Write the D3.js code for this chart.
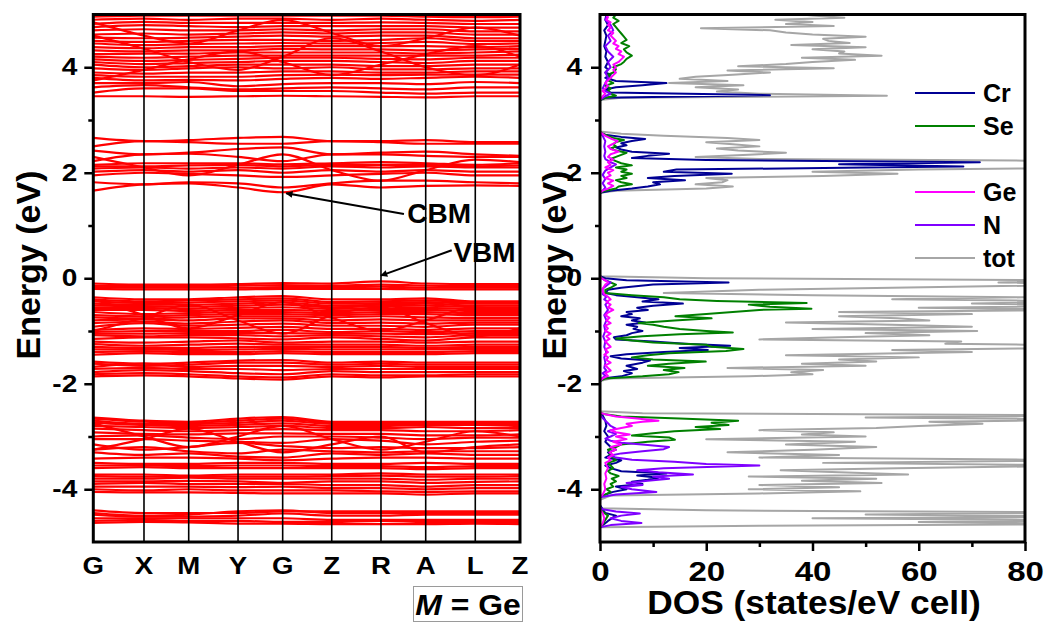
<!DOCTYPE html>
<html>
<head>
<meta charset="utf-8">
<script src="https://cdn.jsdelivr.net/npm/d3@7"></script>
<style>
  html, body { margin: 0; padding: 0; background: #fff; }
  svg { display: block; font-family: "Liberation Sans", Arial, sans-serif; font-weight: bold; }
</style>
</head>
<body>
<svg id="chart" width="1048" height="623"></svg>
<script>
// high-symmetry path
var kLabels = ['G', 'X', 'M', 'Y', 'G', 'Z', 'R', 'A', 'L', 'Z'];
var kDist = [0, 0.594, 1.118, 1.696, 2.219, 2.794, 3.371, 3.895, 4.476, 5.0];

// band energies (eV) at each k point, grouped by manifold
var bandsDeep = [
  [-4.40,-4.45,-4.45,-4.45,-4.42,-4.42,-4.42,-4.42,-4.42,-4.42],
  [-4.45,-4.50,-4.48,-4.42,-4.40,-4.45,-4.45,-4.45,-4.45,-4.45],
  [-4.48,-4.52,-4.52,-4.50,-4.46,-4.50,-4.50,-4.48,-4.48,-4.48],
  [-4.55,-4.55,-4.55,-4.55,-4.55,-4.58,-4.58,-4.58,-4.58,-4.58],
  [-4.60,-4.58,-4.60,-4.60,-4.62,-4.62,-4.60,-4.62,-4.62,-4.62],
  [-4.64,-4.62,-4.63,-4.65,-4.65,-4.66,-4.66,-4.66,-4.65,-4.66]
];
var bandsLower = [
  [-2.64,-2.70,-2.72,-2.66,-2.63,-2.72,-2.72,-2.72,-2.72,-2.72],
  [-2.66,-2.72,-2.74,-2.70,-2.66,-2.74,-2.74,-2.74,-2.74,-2.74],
  [-2.70,-2.76,-2.76,-2.74,-2.70,-2.76,-2.76,-2.76,-2.76,-2.76],
  [-2.74,-2.78,-2.80,-2.78,-2.75,-2.80,-2.80,-2.78,-2.78,-2.80],
  [-2.80,-2.82,-2.84,-2.82,-2.80,-2.84,-2.84,-2.82,-2.84,-2.84],
  [-2.85,-2.88,-2.90,-2.88,-2.86,-2.88,-2.88,-2.90,-2.90,-2.88],
  [-2.92,-2.95,-2.96,-2.94,-2.94,-2.95,-2.95,-2.98,-2.98,-2.96],
  [-3.00,-2.98,-3.02,-3.05,-3.00,-3.00,-3.02,-3.05,-3.02,-3.02],
  [-3.05,-3.05,-3.08,-3.10,-3.12,-3.05,-3.08,-3.15,-3.10,-3.08],
  [-3.15,-3.25,-3.20,-3.12,-3.18,-3.22,-3.20,-3.22,-3.22,-3.20],
  [-3.25,-3.20,-3.28,-3.32,-3.25,-3.28,-3.30,-3.28,-3.28,-3.28],
  [-3.30,-3.35,-3.32,-3.38,-3.40,-3.32,-3.35,-3.32,-3.35,-3.35],
  [-3.42,-3.40,-3.40,-3.42,-3.45,-3.42,-3.40,-3.40,-3.42,-3.42],
  [-3.50,-3.52,-3.52,-3.50,-3.50,-3.52,-3.52,-3.50,-3.52,-3.52],
  [-3.55,-3.55,-3.56,-3.55,-3.55,-3.56,-3.56,-3.58,-3.56,-3.56],
  [-3.60,-3.58,-3.60,-3.60,-3.60,-3.60,-3.60,-3.62,-3.60,-3.60],
  [-3.72,-3.72,-3.74,-3.72,-3.72,-3.72,-3.70,-3.72,-3.72,-3.72],
  [-3.75,-3.76,-3.76,-3.76,-3.76,-3.75,-3.74,-3.76,-3.76,-3.75],
  [-3.80,-3.80,-3.78,-3.80,-3.80,-3.80,-3.80,-3.82,-3.80,-3.80],
  [-3.85,-3.85,-3.84,-3.85,-3.88,-3.85,-3.85,-3.88,-3.86,-3.85],
  [-3.90,-3.88,-3.90,-3.90,-3.90,-3.92,-3.92,-3.95,-3.92,-3.92],
  [-3.95,-3.95,-3.95,-3.96,-3.95,-3.98,-3.98,-4.00,-3.98,-3.98],
  [-4.00,-4.02,-4.00,-4.02,-4.02,-4.02,-4.04,-4.05,-4.04,-4.04],
  [-4.05,-4.06,-4.06,-4.07,-4.08,-4.08,-4.08,-4.10,-4.08,-4.08],
  [-2.75,-3.00,-3.20,-3.00,-2.80,-3.05,-3.25,-3.10,-2.90,-3.00],
  [-3.25,-3.05,-2.85,-3.10,-3.30,-3.15,-3.00,-3.30,-3.20,-3.15]
];
var bandsValence = [
  [-0.10,-0.12,-0.12,-0.11,-0.09,-0.10,-0.06,-0.10,-0.11,-0.11],
  [-0.14,-0.15,-0.15,-0.14,-0.13,-0.14,-0.12,-0.14,-0.15,-0.15],
  [-0.17,-0.18,-0.18,-0.18,-0.17,-0.17,-0.16,-0.18,-0.18,-0.18],
  [-0.20,-0.21,-0.21,-0.21,-0.20,-0.20,-0.20,-0.21,-0.21,-0.21],
  [-0.36,-0.40,-0.40,-0.36,-0.34,-0.40,-0.40,-0.38,-0.44,-0.44],
  [-0.40,-0.44,-0.42,-0.40,-0.38,-0.45,-0.44,-0.42,-0.46,-0.46],
  [-0.44,-0.47,-0.46,-0.44,-0.42,-0.48,-0.47,-0.45,-0.48,-0.48],
  [-0.48,-0.50,-0.50,-0.48,-0.46,-0.52,-0.50,-0.48,-0.52,-0.52],
  [-0.52,-0.53,-0.54,-0.52,-0.50,-0.55,-0.53,-0.52,-0.55,-0.55],
  [-0.56,-0.56,-0.58,-0.56,-0.55,-0.58,-0.57,-0.56,-0.58,-0.58],
  [-0.60,-0.60,-0.62,-0.60,-0.60,-0.62,-0.60,-0.60,-0.62,-0.62],
  [-0.64,-0.68,-0.66,-0.64,-0.64,-0.66,-0.64,-0.64,-0.66,-0.66],
  [-0.70,-0.72,-0.70,-0.68,-0.68,-0.70,-0.68,-0.68,-0.70,-0.70],
  [-0.74,-0.76,-0.74,-0.72,-0.72,-0.74,-0.72,-0.74,-0.75,-0.75],
  [-0.80,-0.78,-0.80,-0.76,-0.76,-0.80,-0.78,-0.80,-0.80,-0.80],
  [-0.85,-0.82,-0.86,-0.82,-0.80,-0.85,-0.84,-0.86,-0.84,-0.84],
  [-0.92,-0.85,-0.90,-0.88,-0.86,-0.90,-0.90,-0.92,-0.88,-0.88],
  [-0.98,-0.95,-0.96,-0.94,-0.92,-0.96,-0.96,-0.98,-0.95,-0.95],
  [-1.02,-1.00,-1.00,-1.00,-0.98,-1.02,-1.00,-1.02,-1.00,-1.00],
  [-1.05,-1.05,-1.04,-1.04,-1.04,-1.05,-1.05,-1.06,-1.04,-1.04],
  [-1.08,-1.10,-1.08,-1.08,-1.10,-1.08,-1.10,-1.12,-1.08,-1.08],
  [-1.15,-1.12,-1.12,-1.14,-1.16,-1.12,-1.15,-1.18,-1.12,-1.12],
  [-1.20,-1.22,-1.20,-1.18,-1.22,-1.20,-1.20,-1.22,-1.20,-1.20],
  [-1.25,-1.28,-1.26,-1.24,-1.26,-1.26,-1.26,-1.28,-1.26,-1.26],
  [-1.30,-1.32,-1.32,-1.30,-1.30,-1.30,-1.30,-1.32,-1.30,-1.30],
  [-1.35,-1.35,-1.36,-1.35,-1.34,-1.35,-1.35,-1.35,-1.34,-1.34],
  [-1.40,-1.38,-1.40,-1.40,-1.38,-1.40,-1.40,-1.40,-1.38,-1.38],
  [-1.45,-1.42,-1.44,-1.44,-1.42,-1.44,-1.44,-1.44,-1.42,-1.42],
  [-1.58,-1.62,-1.60,-1.56,-1.55,-1.60,-1.58,-1.60,-1.60,-1.60],
  [-1.62,-1.66,-1.64,-1.60,-1.60,-1.64,-1.62,-1.64,-1.64,-1.64],
  [-1.68,-1.62,-1.68,-1.66,-1.66,-1.68,-1.66,-1.68,-1.68,-1.68],
  [-1.72,-1.70,-1.72,-1.72,-1.74,-1.72,-1.72,-1.72,-1.72,-1.72],
  [-1.78,-1.74,-1.76,-1.80,-1.82,-1.76,-1.78,-1.78,-1.78,-1.78],
  [-1.82,-1.80,-1.82,-1.86,-1.88,-1.82,-1.84,-1.84,-1.82,-1.82],
  [-1.86,-1.84,-1.86,-1.90,-1.92,-1.86,-1.88,-1.86,-1.86,-1.86],
  [-0.40,-0.70,-0.95,-0.70,-0.45,-0.75,-1.00,-0.80,-0.55,-0.70],
  [-1.00,-0.75,-0.50,-0.80,-1.05,-0.70,-0.55,-0.85,-1.10,-0.95]
];
var bandsCond = [
  [1.66,1.78,1.80,1.72,1.63,1.78,1.72,1.75,1.76,1.75],
  [1.82,1.78,1.82,1.80,1.72,1.80,1.85,1.85,1.82,1.80],
  [1.95,2.00,1.98,1.95,1.92,1.95,1.98,2.00,1.95,1.95],
  [2.02,2.05,2.02,2.05,2.00,2.05,2.02,2.05,2.02,2.02],
  [2.08,2.10,2.08,2.10,2.08,2.12,2.10,2.12,2.10,2.10],
  [2.12,2.12,2.14,2.15,2.12,2.15,2.15,2.15,2.12,2.14],
  [2.15,2.18,2.18,2.18,2.16,2.18,2.20,2.18,2.15,2.18],
  [2.22,2.35,2.36,2.30,2.22,2.35,2.35,2.32,2.30,2.30],
  [2.42,2.35,2.38,2.45,2.48,2.35,2.38,2.40,2.35,2.32],
  [2.50,2.60,2.58,2.55,2.55,2.60,2.58,2.55,2.55,2.55],
  [2.66,2.60,2.62,2.66,2.68,2.60,2.60,2.62,2.58,2.58],
  [2.30,2.10,1.95,2.15,2.35,2.05,1.85,2.05,2.25,2.20]
];
var bandsUpper = [
  [3.45,3.45,3.44,3.45,3.46,3.45,3.44,3.43,3.45,3.45],
  [3.52,3.60,3.60,3.55,3.55,3.55,3.52,3.50,3.52,3.52],
  [3.62,3.66,3.62,3.58,3.60,3.62,3.60,3.58,3.62,3.62],
  [3.70,3.70,3.72,3.64,3.68,3.70,3.70,3.68,3.72,3.70],
  [3.80,3.75,3.76,3.75,3.78,3.80,3.78,3.80,3.82,3.80],
  [3.85,3.82,3.82,3.82,3.85,3.86,3.85,3.86,3.86,3.86],
  [3.90,3.88,3.90,3.90,3.92,3.92,3.90,3.90,3.92,3.92],
  [3.98,3.95,3.98,4.00,3.98,4.00,3.96,3.96,3.98,3.98],
  [4.05,4.00,4.02,4.05,4.05,4.05,4.02,4.02,4.05,4.05],
  [4.10,4.06,4.08,4.10,4.12,4.12,4.10,4.08,4.12,4.12],
  [4.15,4.12,4.14,4.16,4.18,4.18,4.16,4.15,4.18,4.18],
  [4.20,4.18,4.20,4.22,4.22,4.22,4.22,4.22,4.22,4.24],
  [4.25,4.26,4.26,4.28,4.28,4.28,4.28,4.26,4.28,4.30],
  [4.32,4.30,4.32,4.32,4.35,4.34,4.34,4.32,4.34,4.35],
  [4.38,4.36,4.38,4.38,4.40,4.40,4.40,4.40,4.38,4.40],
  [4.45,4.42,4.44,4.45,4.46,4.45,4.46,4.48,4.44,4.45],
  [4.50,4.48,4.50,4.52,4.52,4.50,4.52,4.55,4.50,4.50],
  [4.56,4.55,4.56,4.58,4.60,4.58,4.60,4.60,4.55,4.55],
  [4.62,4.64,4.62,4.64,4.66,4.64,4.66,4.66,4.62,4.62],
  [4.70,4.72,4.70,4.70,4.72,4.70,4.72,4.72,4.68,4.68],
  [4.76,4.80,4.78,4.76,4.78,4.78,4.78,4.78,4.75,4.75],
  [4.82,4.86,4.84,4.84,4.84,4.84,4.85,4.84,4.82,4.82],
  [4.90,4.92,4.90,4.92,4.92,4.90,4.92,4.90,4.88,4.90],
  [4.96,4.98,4.98,4.98,4.98,4.98,4.98,4.96,4.95,4.96],
  [3.75,3.95,4.15,4.30,4.10,3.85,4.05,4.25,4.40,4.20],
  [4.60,4.35,4.10,3.95,4.20,4.55,4.30,4.00,3.85,4.05],
  [4.85,4.60,4.45,4.70,4.90,4.65,4.40,4.55,4.75,4.60]
];

// projected DOS: [energy (eV), states/eV cell]
var dosTot = [
  [-5.00,0],[-4.72,0],[-4.69,30],[-4.66,95],[-4.62,60],[-4.59,95],[-4.55,40],[-4.52,95],[-4.48,50],[-4.44,95],[-4.40,20],[-4.36,0],
  [-4.20,0],[-4.12,2],[-4.08,30],[-4.04,49],[-4.00,28],[-3.96,45],[-3.92,30],[-3.88,53],[-3.84,38],[-3.80,52],[-3.76,28],[-3.72,58],
  [-3.68,45],[-3.64,34],[-3.60,56],[-3.55,95],[-3.50,42],[-3.45,95],[-3.40,30],[-3.35,45],[-3.30,24],[-3.25,40],[-3.20,52],[-3.15,35],
  [-3.10,48],[-3.05,20],[-3.00,50],[-2.96,38],[-2.92,44],[-2.88,30],[-2.84,52],[-2.80,60],[-2.76,72],[-2.72,62],[-2.68,95],[-2.64,50],
  [-2.60,95],[-2.56,8],[-2.52,0],[-1.95,0],[-1.90,2],[-1.86,28],[-1.82,40],[-1.78,36],[-1.74,42],[-1.70,24],[-1.66,50],[-1.62,38],
  [-1.58,52],[-1.54,45],[-1.50,60],[-1.46,35],[-1.40,70],[-1.36,55],[-1.32,90],[-1.28,95],[-1.24,65],[-1.20,68],[-1.16,30],[-1.12,45],
  [-1.08,62],[-1.04,50],[-1.00,71],[-0.96,40],[-0.92,70],[-0.88,55],[-0.84,35],[-0.80,62],[-0.76,56],[-0.72,45],[-0.68,70],[-0.64,45],
  [-0.60,95],[-0.56,60],[-0.52,95],[-0.48,70],[-0.44,95],[-0.40,55],[-0.36,80],[-0.32,40],[-0.28,12],[-0.22,30],[-0.18,55],[-0.12,95],
  [-0.08,75],[-0.04,95],[0.00,20],[0.04,0],[1.62,0],[1.66,3],[1.70,20],[1.74,25],[1.78,18],[1.82,23],[1.86,24],[1.90,20],[1.94,42],
  [1.98,56],[2.02,40],[2.06,60],[2.10,95],[2.14,80],[2.18,95],[2.22,95],[2.26,30],[2.30,18],[2.34,28],[2.38,35],[2.42,26],[2.46,22],
  [2.50,30],[2.54,25],[2.58,20],[2.62,30],[2.66,24],[2.70,12],[2.74,4],[2.78,0],[3.38,0],[3.42,4],[3.46,54],[3.50,30],[3.54,22],
  [3.58,26],[3.62,18],[3.66,27],[3.70,13],[3.74,24],[3.78,15],[3.82,18],[3.86,25],[3.90,32],[3.94,24],[3.98,44],[4.02,26],[4.06,35],
  [4.10,40],[4.14,48],[4.18,38],[4.22,53],[4.26,45],[4.30,46],[4.34,40],[4.38,50],[4.42,36],[4.46,47],[4.50,43],[4.54,42],[4.58,50],
  [4.62,40],[4.66,35],[4.70,32],[4.74,19],[4.78,44],[4.82,35],[4.86,40],[4.90,33],[4.94,46],[4.98,40],[5.00,38]
];
var dosCr = [
  [-5.00,0],[-4.72,0],[-4.66,0.8],[-4.60,1.5],[-4.50,3],[-4.45,1],[-4.38,0.5],[-4.30,0],[-4.15,0],[-4.10,1],[-4.05,2.5],[-4.00,5],
  [-3.95,3],[-3.90,8],[-3.86,6],[-3.82,9],[-3.78,11],[-3.74,7],[-3.70,12.5],[-3.66,4],[-3.60,2],[-3.55,1],[-3.50,3],[-3.45,4],
  [-3.40,1],[-3.35,2],[-3.30,1.5],[-3.25,3],[-3.20,2],[-3.10,1],[-3.00,1.5],[-2.90,0.8],[-2.80,1.2],[-2.70,1],[-2.60,0.5],[-2.55,0],
  [-1.95,0],[-1.90,0.5],[-1.86,4],[-1.80,6],[-1.76,4.5],[-1.72,7],[-1.66,5],[-1.60,8],[-1.56,9.4],[-1.52,4],[-1.48,2],[-1.44,5],
  [-1.40,12],[-1.36,20.3],[-1.32,15],[-1.28,24.5],[-1.24,16],[-1.20,10],[-1.16,3],[-1.12,2.6],[-1.08,5],[-1.04,6],[-1.00,8],[-0.96,6.3],
  [-0.92,7],[-0.88,5],[-0.84,8.5],[-0.80,6],[-0.76,7.5],[-0.72,4],[-0.68,6],[-0.64,5],[-0.60,9],[-0.56,7],[-0.52,10],[-0.48,15.6],
  [-0.44,8],[-0.40,11],[-0.36,7],[-0.32,3],[-0.28,1],[-0.22,1.5],[-0.18,4],[-0.12,10],[-0.08,24.2],[-0.04,5],[0.00,1],[0.04,0],
  [1.62,0],[1.66,2],[1.70,6],[1.74,9],[1.78,11.3],[1.82,10],[1.86,16],[1.90,9],[1.94,14],[1.98,24.8],[2.02,12],[2.06,14.4],
  [2.10,50],[2.12,68.4],[2.16,45],[2.20,71.5],[2.24,20],[2.28,6],[2.32,9],[2.36,13],[2.40,6],[2.44,4],[2.48,3],[2.52,5],[2.56,4],
  [2.60,6],[2.64,8.5],[2.68,4],[2.72,1],[2.76,0],[3.38,0],[3.42,1],[3.47,32],[3.52,2],[3.58,1],[3.62,3],[3.66,8],[3.70,12.5],
  [3.74,3],[3.80,1],[3.86,2],[3.90,1],[3.96,1.5],[4.00,1],[4.10,1.5],[4.20,1],[4.30,1.2],[4.40,0.8],[4.50,1],[4.60,1.2],[4.70,0.8],
  [4.80,1.5],[4.90,1],[5.00,1.2]
];
var dosSe = [
  [-5.00,0],[-4.72,0],[-4.65,0.6],[-4.58,1],[-4.50,1.5],[-4.45,0.8],[-4.38,0],[-4.15,0],[-4.10,1],[-4.05,2],[-4.00,1.2],[-3.95,2.5],
  [-3.90,2],[-3.85,3],[-3.80,2.2],[-3.75,3.5],[-3.70,2],[-3.65,1.5],[-3.60,2.5],[-3.55,2],[-3.50,1.5],[-3.45,3],[-3.40,2.5],[-3.35,1.8],
  [-3.30,2],[-3.25,1.5],[-3.20,3],[-3.15,4],[-3.10,9],[-3.06,14.1],[-3.02,13],[-2.98,6],[-2.94,10],[-2.90,14],[-2.86,22.6],[-2.82,18],
  [-2.78,24.2],[-2.74,21],[-2.70,26],[-2.66,15],[-2.62,4],[-2.58,1],[-2.55,0],[-1.95,0],[-1.90,1],[-1.86,8],[-1.82,13],[-1.78,14.8],
  [-1.74,12],[-1.70,15.9],[-1.66,9],[-1.62,13],[-1.58,19.9],[-1.54,10],[-1.50,6],[-1.46,9],[-1.42,13],[-1.38,23.7],[-1.34,27],[-1.30,21],
  [-1.26,20],[-1.22,10],[-1.18,6],[-1.14,3],[-1.10,8],[-1.06,15],[-1.03,25],[-1.00,20],[-0.96,15],[-0.92,12],[-0.88,10],[-0.85,7.3],
  [-0.80,14],[-0.76,21],[-0.72,14.2],[-0.68,20],[-0.64,25],[-0.60,30],[-0.58,39.8],[-0.54,32],[-0.50,28],[-0.47,38.9],[-0.43,22],
  [-0.40,15],[-0.36,12],[-0.32,6],[-0.28,1],[-0.22,1],[-0.18,2],[-0.12,3],[-0.08,2],[-0.04,1],[0.00,0.5],[0.04,0],[1.62,0],[1.66,1],
  [1.70,3],[1.74,3.5],[1.78,6],[1.82,4],[1.86,3],[1.90,5],[1.94,4],[1.98,6],[2.02,4],[2.06,5],[2.10,3],[2.14,6],[2.18,4],[2.22,3],
  [2.26,2],[2.30,3],[2.34,4],[2.38,5],[2.42,3],[2.46,2],[2.50,3],[2.54,2.5],[2.58,3],[2.62,4.5],[2.66,2.5],[2.70,1.5],[2.74,0.5],
  [2.78,0],[3.38,0],[3.42,1],[3.46,3],[3.50,2],[3.55,1.5],[3.60,2],[3.65,1],[3.70,2.5],[3.75,1.5],[3.80,2],[3.86,1.5],[3.90,2.5],
  [3.96,3],[4.00,2.5],[4.06,4],[4.10,4.5],[4.16,5],[4.22,6],[4.28,5],[4.34,4.5],[4.40,5.5],[4.46,4],[4.52,5],[4.58,4.5],[4.64,4],
  [4.70,3.5],[4.76,3],[4.82,2.5],[4.88,3.5],[4.94,2.5],[5.00,3]
];
var dosGe = [
  [-5.00,0],[-4.72,0],[-4.65,0.5],[-4.55,0.8],[-4.45,0.5],[-4.38,0],[-4.15,0],[-4.10,0.5],[-4.00,1],[-3.90,0.8],[-3.80,1.2],[-3.70,1],
  [-3.60,1.5],[-3.50,1],[-3.45,2],[-3.40,1.5],[-3.35,2.5],[-3.30,1.8],[-3.25,3],[-3.20,2],[-3.15,4],[-3.10,2.5],[-3.05,5],[-3.00,3],
  [-2.96,5.6],[-2.92,3],[-2.88,2],[-2.84,4],[-2.80,6],[-2.76,5],[-2.72,8],[-2.70,11],[-2.66,7],[-2.62,3],[-2.58,1],[-2.55,0],
  [-1.95,0],[-1.90,0.5],[-1.85,1.5],[-1.80,1],[-1.75,2],[-1.70,1.5],[-1.65,1],[-1.60,2],[-1.55,1.2],[-1.50,1.5],[-1.45,0.8],[-1.40,1.5],
  [-1.35,1],[-1.30,2],[-1.25,1.5],[-1.20,1],[-1.15,1.8],[-1.10,1.2],[-1.05,2],[-1.00,1],[-0.95,1.5],[-0.90,1],[-0.85,2],[-0.80,1.2],
  [-0.75,1.8],[-0.70,1],[-0.65,1.5],[-0.60,2.5],[-0.55,1.5],[-0.50,2],[-0.45,1.2],[-0.40,2],[-0.35,1.5],[-0.30,0.8],[-0.25,0.5],
  [-0.20,0.5],[-0.12,1],[-0.08,1.5],[-0.04,1],[0.00,0.3],[0.04,0],[1.62,0],[1.66,0.5],[1.70,1.5],[1.75,2.5],[1.80,1.5],[1.85,2.5],
  [1.90,1],[1.95,2],[2.00,1.5],[2.05,2.5],[2.10,1],[2.15,2],[2.20,1.5],[2.25,2.5],[2.30,1.5],[2.35,2],[2.40,3.5],[2.45,2],[2.50,1.5],
  [2.55,2.5],[2.60,3.3],[2.65,2],[2.70,1],[2.75,0.3],[2.78,0],[3.38,0],[3.45,0.5],[3.50,1],[3.55,0.5],[3.60,1],[3.65,1.5],[3.70,1],
  [3.75,1.5],[3.80,2],[3.85,2.5],[3.90,3],[3.95,2.5],[4.00,3],[4.05,2.5],[4.10,3.5],[4.15,4],[4.20,4.5],[4.25,3.5],[4.30,4],[4.35,3],
  [4.40,3.5],[4.45,2.5],[4.50,3],[4.55,2.5],[4.60,2],[4.65,2.5],[4.70,1.5],[4.75,2],[4.80,1.5],[4.85,2],[4.90,1.2],[4.95,1.5],[5.00,1]
];
var dosN = [
  [-5.00,0],[-4.72,0],[-4.68,2],[-4.64,7.8],[-4.60,4],[-4.55,2],[-4.50,4],[-4.46,7.5],[-4.42,3],[-4.38,0.5],[-4.34,0],[-4.15,0],
  [-4.10,3],[-4.05,10.6],[-4.00,6],[-3.96,4],[-3.92,8],[-3.88,5],[-3.84,9],[-3.80,13],[-3.76,10],[-3.72,17.5],[-3.68,11],[-3.64,7],
  [-3.60,12],[-3.55,30],[-3.52,20],[-3.48,14],[-3.44,6],[-3.40,3],[-3.36,2],[-3.32,4],[-3.28,8],[-3.24,12],[-3.20,13],[-3.16,9],
  [-3.12,4],[-3.08,2],[-3.04,1],[-3.00,2],[-2.95,3],[-2.90,1.5],[-2.85,3],[-2.80,2],[-2.75,1.5],[-2.70,1],[-2.65,0.5],[-2.58,0],
  [-1.95,0],[-1.90,0.3],[-1.85,1],[-1.80,0.5],[-1.75,1.2],[-1.70,0.8],[-1.60,1],[-1.50,0.8],[-1.40,1.2],[-1.30,0.8],[-1.20,1],
  [-1.10,0.6],[-1.00,1],[-0.90,0.8],[-0.80,1.2],[-0.70,0.8],[-0.60,1.5],[-0.50,1],[-0.45,1.5],[-0.40,0.8],[-0.35,1.2],[-0.30,0.5],
  [-0.20,0.5],[-0.12,1.5],[-0.08,2],[-0.04,1],[0.00,0.3],[0.04,0],[1.62,0],[1.66,0.5],[1.72,1],[1.80,0.5],[1.88,1],[1.96,0.5],
  [2.04,1],[2.10,2],[2.16,3],[2.20,2],[2.26,1],[2.32,0.8],[2.40,1],[2.50,0.8],[2.60,1],[2.70,0.5],[2.76,0],[3.38,0],[3.45,1],
  [3.50,2],[3.55,1],[3.60,0.5],[3.70,1],[3.80,1.5],[3.90,1],[4.00,2],[4.10,1.5],[4.20,2.5],[4.30,1.5],[4.40,1],[4.50,2],[4.60,1.5],
  [4.70,2.5],[4.80,2],[4.90,1],[5.00,1.5]
];

var energyTicks = [-4, -2, 0, 2, 4];
var energyMinorTicks = [-3, -1, 1, 3];
var dosTicks = [0, 20, 40, 60, 80];
var dosMinorTicks = [10, 30, 50, 70];

var legendNames = ['Cr', 'Se', 'Ge', 'N', 'tot'];
var legendRows = [0, 1, 3, 4, 5];

// annotations in data units: [k, E]
var annotations = [
  { label: 'CBM', tip: [2.26, 1.61], tail: [3.64, 1.22], text: [3.68, 1.04] },
  { label: 'VBM', tip: [3.37, 0.05], tail: [4.20, 0.53], text: [4.22, 0.30] }
];

var render = function () {
  var svg = d3.select('#chart');

  var BAND = { left: 93.3, right: 520 };
  var DOS = { left: 600, right: 1025 };
  var TOP = 14.5, BOTTOM = 542;
  var FONT = '"Liberation Sans", Arial, sans-serif';

  var colors = {
    band: '#ff0000',
    Cr: '#000094',
    Se: '#008000',
    Ge: '#ff00ff',
    N: '#7f00ff',
    tot: '#a6a6a6'
  };

  // the figure's lettering is a little wider than plain Arial
  var wide = (sel, sx) => sel.attr('transform', function () {
    var x = +this.getAttribute('x') || 0;
    this.setAttribute('x', x / sx);
    return `scale(${ sx }, 1)`;
  });

  /**
   * scales
   */
  var y = d3.scaleLinear().domain([-5, 5]).range([BOTTOM, TOP]);
  var k = d3.scaleLinear().domain([0, 5]).range([BAND.left, BAND.right]);
  var x = d3.scaleLinear().domain([0, 80]).range([DOS.left, DOS.right]);

  var defs = svg.append('defs');
  defs.append('clipPath').attr('id', 'clip-band')
    .append('rect').attr('x', BAND.left).attr('y', TOP)
    .attr('width', BAND.right - BAND.left).attr('height', BOTTOM - TOP);
  defs.append('clipPath').attr('id', 'clip-dos')
    .append('rect').attr('x', DOS.left).attr('y', TOP)
    .attr('width', DOS.right - DOS.left).attr('height', BOTTOM - TOP);
  defs.append('marker').attr('id', 'arrow')
    .attr('viewBox', '0 0 10 10').attr('refX', 9).attr('refY', 5)
    .attr('markerWidth', 10).attr('markerHeight', 7)
    .attr('markerUnits', 'userSpaceOnUse').attr('orient', 'auto')
    .append('path').attr('d', 'M0,0L10,5L0,10Z').attr('fill', '#000');

  /**
   * band structure
   */
  var bandLine = d3.line()
    .x((d, i) => k(kDist[i]))
    .y(d => y(d))
    .curve(d3.curveMonotoneX);

  var allBands = [].concat(bandsDeep, bandsLower, bandsValence, bandsCond, bandsUpper);

  svg.append('g').attr('clip-path', 'url(#clip-band)')
    .selectAll('path').data(allBands).enter().append('path')
      .attr('d', bandLine)
      .attr('fill', 'none')
      .attr('stroke', colors.band)
      .attr('stroke-width', 2.2);

  svg.append('g').selectAll('line')
    .data(kDist.slice(1, -1)).enter().append('line')
      .attr('x1', d => k(d)).attr('x2', d => k(d))
      .attr('y1', TOP).attr('y2', BOTTOM)
      .attr('stroke', '#000').attr('stroke-width', 1.6);

  svg.append('g').selectAll('text')
    .data(kLabels).enter().append('text')
      .attr('x', (d, i) => k(kDist[i]))
      .attr('y', 574)
      .attr('text-anchor', 'middle')
      .attr('font-size', 23)
      .text(d => d)
      .call(wide, 1.2);

  var ann = svg.append('g').selectAll('g').data(annotations).enter().append('g');
  ann.append('line')
    .attr('x1', d => k(d.tail[0])).attr('y1', d => y(d.tail[1]))
    .attr('x2', d => k(d.tip[0])).attr('y2', d => y(d.tip[1]))
    .attr('stroke', '#000').attr('stroke-width', 2)
    .attr('marker-end', 'url(#arrow)');
  ann.append('text')
    .attr('x', d => k(d.text[0])).attr('y', d => y(d.text[1]))
    .attr('font-size', 28)
    .text(d => d.label);

  /**
   * DOS
   */
  var dosLine = d3.line().x(d => x(d[1])).y(d => y(d[0]));
  var series = [
    { name: 'tot', values: dosTot },
    { name: 'Cr', values: dosCr },
    { name: 'Se', values: dosSe },
    { name: 'N', values: dosN },
    { name: 'Ge', values: dosGe }
  ];

  svg.append('g').attr('clip-path', 'url(#clip-dos)')
    .selectAll('path').data(series).enter().append('path')
      .attr('d', d => dosLine(d.values))
      .attr('fill', 'none')
      .attr('stroke', d => colors[d.name])
      .attr('stroke-width', 2)
      .attr('stroke-linejoin', 'round');

  var legend = svg.append('g').selectAll('g')
    .data(legendNames).enter().append('g')
      .attr('transform', (d, i) => `translate(915, ${ 93 + legendRows[i] * 33 })`);
  legend.append('line')
    .attr('x1', 0).attr('x2', 60)
    .attr('stroke', d => colors[d]).attr('stroke-width', 2);
  legend.append('text')
    .attr('x', 68).attr('y', 9)
    .attr('font-size', 25)
    .text(d => d);

  /**
   * axes and frames
   */
  var addEnergyAxis = (left, labelGap) => {
    var major = d3.axisLeft(y).tickValues(energyTicks).tickSize(9).tickFormat(d => String(d));
    var minor = d3.axisLeft(y).tickValues(energyMinorTicks).tickSize(5).tickFormat('');
    [major, minor].forEach(a => {
      var g = svg.append('g').attr('transform', `translate(${ left }, 0)`).call(a);
      g.select('.domain').remove();
      g.selectAll('.tick line').attr('stroke-width', 2.5);
      g.selectAll('.tick text')
        .attr('x', -labelGap)
        .attr('font-size', 23).attr('font-weight', 'bold')
        .attr('font-family', FONT).attr('fill', '#000')
        .call(wide, 1.22);
    });
  };
  addEnergyAxis(BAND.left, 16);
  addEnergyAxis(DOS.left, 18);

  var xMajor = d3.axisBottom(x).tickValues(dosTicks).tickSize(9).tickPadding(10).tickFormat(d => String(d));
  var xMinor = d3.axisBottom(x).tickValues(dosMinorTicks).tickSize(5).tickFormat('');
  [xMajor, xMinor].forEach(a => {
    var g = svg.append('g').attr('transform', `translate(0, ${ BOTTOM })`).call(a);
    g.select('.domain').remove();
    g.selectAll('.tick line').attr('stroke-width', 2.5);
    g.selectAll('.tick text').attr('font-size', 28).attr('font-weight', 'bold')
      .attr('font-family', FONT).attr('fill', '#000')
      .call(wide, 1.18);
  });

  [BAND, DOS].forEach(p => {
    svg.append('rect')
      .attr('x', p.left).attr('y', TOP)
      .attr('width', p.right - p.left).attr('height', BOTTOM - TOP)
      .attr('fill', 'none').attr('stroke', '#000').attr('stroke-width', 3);
  });

  /**
   * titles
   */
  [40, 566].forEach(bx => {
    svg.append('text')
      .attr('transform', `translate(${ bx }, 265) rotate(-90)`)
      .attr('text-anchor', 'middle')
      .attr('font-size', 34)
      .text('Energy (eV)');
  });

  svg.append('text')
    .attr('x', 814).attr('y', 614)
    .attr('text-anchor', 'middle')
    .attr('font-size', 33)
    .text('DOS (states/eV cell)')
    .call(wide, 1.07);

  svg.append('rect')
    .attr('x', 413.5).attr('y', 586.5).attr('width', 109).attr('height', 35)
    .attr('fill', 'none').attr('stroke', '#9a9a9a').attr('stroke-width', 1);
  var tag = svg.append('text')
    .attr('x', 468).attr('y', 615)
    .attr('text-anchor', 'middle')
    .attr('font-size', 29);
  tag.append('tspan').attr('font-style', 'italic').text('M');
  tag.append('tspan').text(' = Ge');
  tag.call(wide, 1.1);
};

render();
</script>
</body>
</html>
